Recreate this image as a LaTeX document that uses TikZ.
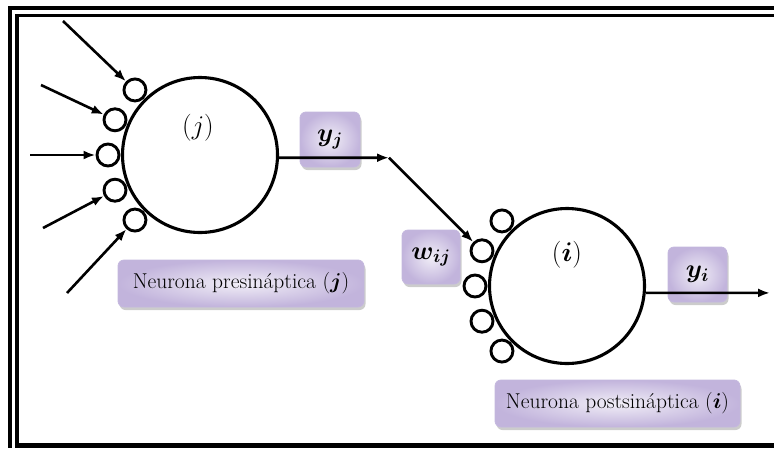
\RequirePackage{fix-cm}
\documentclass[tikz,border=0pt]{standalone}
\usepackage{amsmath,bm}
\usepackage{fontspec}
\usetikzlibrary{arrows.meta,shadows,calc}
\definecolor{boxin}{RGB}{241,238,247}
\definecolor{boxout}{RGB}{194,180,220}
\definecolor{boxedge}{RGB}{196,184,222}
\begin{document}
\begin{tikzpicture}[x=1pt,y=-1pt,
  neuron/.style={circle, draw, line width=3.1pt, fill=white, minimum size=155pt, inner sep=0pt},
  syn/.style={circle, draw, line width=2.9pt, fill=white, minimum size=22pt, inner sep=0pt},
  conn/.style={line width=2.6pt, -{Latex[length=12pt,width=9pt]}},
  lbl/.style={rounded corners=6pt, draw=boxedge, line width=0.8pt, inner color=boxin, outer color=boxout,
     drop shadow={shadow xshift=1.5pt, shadow yshift=-3pt, opacity=0.4}, inner sep=0pt,
     font=\fontsize{21.5}{23}\selectfont},
  nlab/.style={font=\fontsize{27}{29}\selectfont, inner sep=0pt}
  ]
\useasboundingbox (0,0) rectangle (774,448);
% frame
\fill (7.5,6) rectangle (774,10);
\fill (7.5,6) rectangle (11.5,448);
\fill (15,14) rectangle (774,17.3);
\fill (15,14) rectangle (19,448);
\fill (15,443) rectangle (774,448);
% label boxes
\node[lbl, minimum width=60pt, minimum height=55pt] (yj) at (330,139.5) {\fontsize{26}{28}\selectfont$\boldsymbol{y_j}$};
\node[lbl, minimum width=58pt, minimum height=54pt] (wij) at (431,257) {\fontsize{26}{28}\selectfont$\boldsymbol{w_{ij}}$};
\node[lbl, minimum width=246pt, minimum height=47pt] (pre) at (241,283.5) {Neurona presináptica $(\boldsymbol{j})$};
\node[lbl, minimum width=59pt, minimum height=55pt] (yi) at (697.5,274.5) {\fontsize{26}{28}\selectfont$\boldsymbol{y_i}$};
\node[lbl, minimum width=245pt, minimum height=47pt] (post) at (617.5,403.5) {Neurona postsináptica $(\boldsymbol{i})$};
% neurons
\node[neuron] (j) at (200,155) {};
\node[neuron] (i) at (567,286) {};
\node[nlab] (jl) at (198,128) {$(j)$};
\node[nlab] (il) at (567,255) {$(\boldsymbol{i})$};
% synapses
\foreach \a [count=\k] in {225,202.5,180,157.5,135} {
  \node[syn] (sj\k) at ($(j.center)+(\a:92)$) {};
  \node[syn] (si\k) at ($(i.center)+(\a:92)$) {};
}
% inputs
\coordinate (in1) at (63,21);
\coordinate (in2) at (41,85);
\coordinate (in3) at (30,155);
\coordinate (in4) at (43,228);
\coordinate (in5) at (67,293);
\foreach \k in {1,...,5} \draw[conn] (in\k) -- (sj\k);
% outputs
\coordinate (corner) at (389,157.7);
\coordinate (out) at (770,292.9);
\draw[conn] (j.-2) -- (corner);
\draw[conn] (corner) -- (si2);
\draw[conn] (i.-5) -- (out);
\end{tikzpicture}
\end{document}
